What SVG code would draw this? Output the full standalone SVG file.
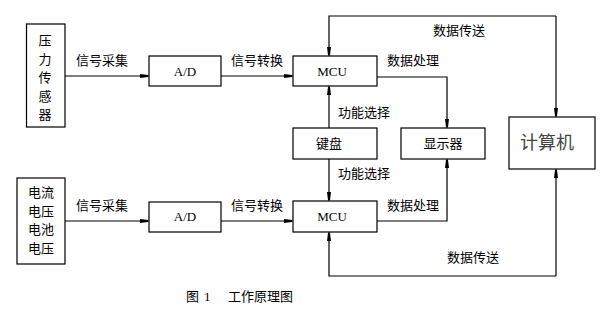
<svg xmlns="http://www.w3.org/2000/svg" width="603" height="311" viewBox="0 0 603 311">
<style>
.box{fill:#fff;stroke:#000;stroke-width:1.2}
.ln{fill:none;stroke:#000;stroke-width:1.2;marker-end:url(#ah)}
.cn{font-family:"Noto Sans CJK SC","Noto Sans CJK JP",sans-serif;font-size:13px;fill:#000}
.sr{font-family:"Liberation Serif",serif;font-size:13px;fill:#000;text-anchor:middle}
</style>
<defs>
<marker id="ah" markerWidth="8" markerHeight="6" refX="9" refY="3" orient="auto" markerUnits="userSpaceOnUse">
<path d="M0,1 L8,2 L8,4 L0,5 Z" fill="#000"/>
</marker>
</defs>
<rect width="603" height="311" fill="#fff"/>
<g id="connectors">
<line class="ln" x1="65" y1="76" x2="149" y2="76"/>
<line class="ln" x1="221" y1="76" x2="293" y2="76"/>
<line class="ln" x1="65" y1="221" x2="149" y2="221"/>
<line class="ln" x1="221" y1="221" x2="293" y2="221"/>
<path class="ln" d="M556,16 L329,16 L329,56"/>
<path class="ln" d="M556,16 L556,117"/>
<polyline class="ln" points="377,77 447,77 447,128"/>
<line class="ln" x1="329" y1="128" x2="329" y2="86"/>
<line class="ln" x1="329" y1="159" x2="329" y2="201"/>
<polyline class="ln" points="377,221 447,221 447,159"/>
<polyline class="ln" points="556,276 329,276 329,232"/>
<path class="ln" d="M556,276 L556,169"/>
</g>
<g id="sensor1"><rect class="box" x="26.5" y="24" width="38.5" height="103"/>
<text class="cn" text-anchor="middle"><tspan x="45" y="45">压</tspan><tspan x="45" y="64">力</tspan><tspan x="45" y="82">传</tspan><tspan x="45" y="101">感</tspan><tspan x="45" y="119">器</tspan></text></g>
<g id="sensor2"><rect class="box" x="17" y="178" width="48" height="86"/>
<text class="cn" text-anchor="middle"><tspan x="41" y="197">电流</tspan><tspan x="41" y="216">电压</tspan><tspan x="41" y="234">电池</tspan><tspan x="41" y="253">电压</tspan></text></g>
<g id="ad1"><rect class="box" x="149" y="56" width="72" height="30"/><text class="sr" x="185" y="76">A/D</text></g>
<g id="ad2"><rect class="box" x="149" y="202" width="72" height="30"/><text class="sr" x="185" y="221">A/D</text></g>
<g id="mcu1"><rect class="box" x="293" y="56" width="84" height="30"/><text class="sr" x="332" y="76">MCU</text></g>
<g id="mcu2"><rect class="box" x="293" y="201" width="84" height="31"/><text class="sr" x="332" y="221">MCU</text></g>
<g id="keyboard"><rect class="box" x="293" y="128" width="84" height="31"/><text class="cn" x="329" y="148" text-anchor="middle">键盘</text></g>
<g id="display"><rect class="box" x="401" y="128" width="84" height="31"/><text class="cn" x="443" y="148" text-anchor="middle">显示器</text></g>
<g id="computer"><rect class="box" x="509" y="117" width="86" height="52"/><text x="547" y="149" text-anchor="middle" font-family="'Noto Sans CJK SC',sans-serif" font-size="18" fill="#444">计算机</text></g>
<g id="labels" class="cn">
<text x="76" y="65">信号采集</text>
<text x="231" y="65">信号转换</text>
<text x="76" y="210">信号采集</text>
<text x="231" y="210">信号转换</text>
<text x="433" y="35">数据传送</text>
<text x="387" y="65">数据处理</text>
<text x="338" y="117">功能选择</text>
<text x="338" y="178">功能选择</text>
<text x="387" y="210">数据处理</text>
<text x="447" y="262">数据传送</text>
<text y="301"><tspan x="186">图</tspan><tspan x="204" font-family="'Liberation Serif',serif">1</tspan><tspan x="228">工作原理图</tspan></text>
</g>
</svg>
